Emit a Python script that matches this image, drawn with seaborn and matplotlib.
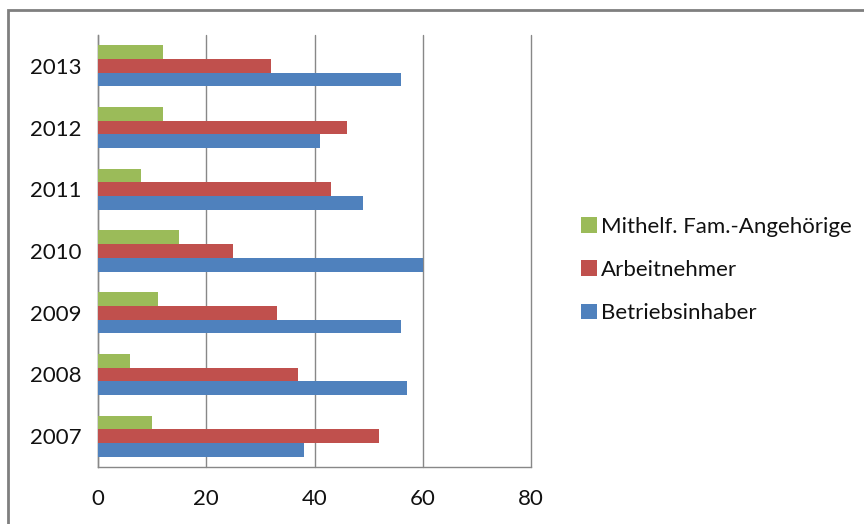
import matplotlib
matplotlib.use("Agg")
import matplotlib.pyplot as plt
from matplotlib.patches import Rectangle
import pandas as pd
import seaborn as sns

years = ["2013", "2012", "2011", "2010", "2009", "2008", "2007"]
series = ["Mithelf. Fam.-Angehörige", "Arbeitnehmer", "Betriebsinhaber"]
mithelfende = [12, 12, 8, 15, 11, 6, 10]
arbeitnehmer = [32, 46, 43, 25, 33, 37, 52]
betriebsinhaber = [56, 41, 49, 60, 56, 57, 38]
x_ticks = [0, 20, 40, 60, 80]
colors = ["#9BBB59", "#C0504D", "#4F81BD"]

df = pd.DataFrame({
    "Jahr": years * 3,
    "Gruppe": [series[0]] * 7 + [series[1]] * 7 + [series[2]] * 7,
    "Wert": mithelfende + arbeitnehmer + betriebsinhaber,
})

sns.set_style("white")
plt.rcParams["font.family"] = ["Lato", "DejaVu Sans"]

W, H = 864, 524
fig = plt.figure(figsize=(W / 100, H / 100), dpi=100)
ax = fig.add_axes([98 / W, 1 - 467 / H, (531 - 98) / W, (467 - 35) / H])

sns.barplot(data=df, y="Jahr", x="Wert", hue="Gruppe", order=years,
            hue_order=series, palette=colors, orient="h", width=0.667,
            saturation=1, ax=ax, zorder=3, errorbar=None, linewidth=0)

ax.set_xlim(0, 80)
ax.set_xticks(x_ticks)
ax.set_xlabel("")
ax.set_ylabel("")
ax.grid(axis="x", color="#888888", linewidth=1.0, zorder=0)
ax.grid(axis="y", visible=False)
for gl in ax.get_xgridlines():
    gl.set_clip_on(False)
for s in ["top", "right"]:
    ax.spines[s].set_visible(False)
for s in ["left", "bottom"]:
    ax.spines[s].set_color("#888888")
    ax.spines[s].set_linewidth(1.0)

ax.tick_params(axis="x", which="major", direction="out", length=6,
               color="#888888", labelsize=16, pad=10, labelcolor="#111111")
ax.set_yticks([i - 0.5 for i in range(len(years) + 1)], minor=True)
ax.tick_params(axis="y", which="minor", direction="out", length=6,
               color="#888888")
ax.tick_params(axis="y", which="major", length=0, labelsize=16, pad=12,
               labelcolor="#111111")

handles, labels = ax.get_legend_handles_labels()
leg = ax.legend(handles, labels, loc="center left",
                bbox_to_anchor=(581 / W, 1 - 270 / H),
                bbox_transform=fig.transFigure, frameon=False,
                fontsize=16, handlelength=0.7, handleheight=0.7,
                handletextpad=0.2, labelspacing=1.05, borderaxespad=0,
                borderpad=0)
for t in leg.get_texts():
    t.set_color("#111111")

# outer chart frame
fig.add_artist(Rectangle((8 / W, -0.1), 1.2, 1 - 10 / H + 0.1,
                         transform=fig.transFigure, fill=False,
                         edgecolor="#7f7f7f", linewidth=2))

fig.savefig("out.png", dpi=100)
